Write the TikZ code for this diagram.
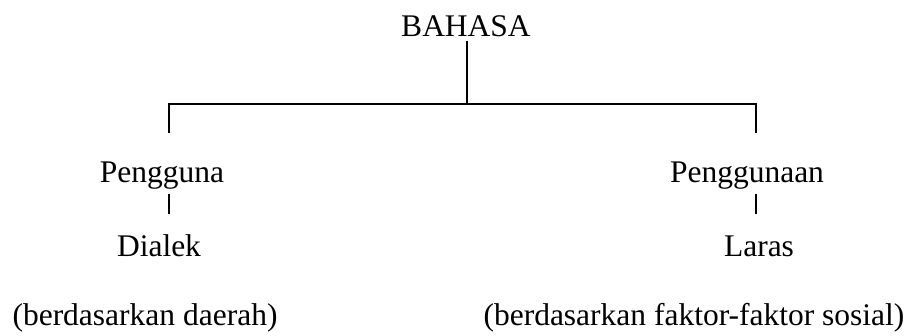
\documentclass[tikz,border=0pt]{standalone}
\usepackage{fontspec}
\setmainfont{Liberation Serif}
\usepackage{tikz}
\usetikzlibrary{positioning, calc}

\tikzset{
  lbl/.style={anchor=base, inner sep=0pt, font=\fontsize{31.5}{36}\selectfont},
  branch/.style={line width=1.3pt}
}

\begin{document}
\begin{tikzpicture}[x=1pt, y=-1pt]
  \useasboundingbox (0,0) rectangle (913,335);

  % labels, placed on their baselines
  \node[lbl] (bahasa) at (466,36) {BAHASA};
  \node[lbl] (pengguna) at (162,182) {Pengguna};
  \node[lbl] (penggunaan) at (747,182) {Penggunaan};
  \node[lbl] (dialek) at (159,256) {Dialek};
  \node[lbl] (laras) at (759,256) {Laras};
  \node[lbl] (daerah) at (145,325) {(berdasarkan daerah)};
  \node[lbl] (sosial) at (694,325) {(berdasarkan faktor-faktor sosial)};

  % the fork
  \coordinate (fork) at (467,104);
  \coordinate (left) at (169,104);
  \coordinate (right) at (756,104);
  \draw[branch] (bahasa.south -| fork) ++(0,4) -- (fork);
  \draw[branch] (left) ++(0,29) -- (left) -- (right) -- ++(0,29);

  % short stems
  \draw[branch] (pengguna.south -| left) ++(0,5) -- ++(0,20);
  \draw[branch] (penggunaan.south -| right) ++(0,5) -- ++(0,20);
\end{tikzpicture}
\end{document}
